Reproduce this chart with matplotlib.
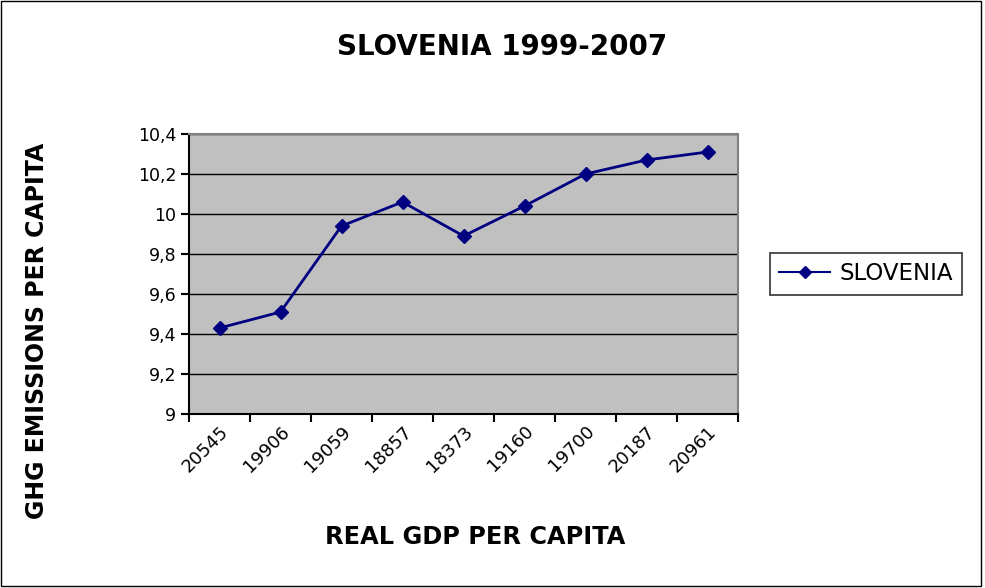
import matplotlib
matplotlib.use("Agg")
import matplotlib.pyplot as plt
from matplotlib.patches import Rectangle
from matplotlib.lines import Line2D

plt.rcParams['font.family'] = ['DejaVu Sans']

categories = ["20545", "19906", "19059", "18857", "18373", "19160", "19700", "20187", "20961"]
values = [9.43, 9.51, 9.94, 10.06, 9.89, 10.04, 10.20, 10.27, 10.31]
yticks = [9.0, 9.2, 9.4, 9.6, 9.8, 10.0, 10.2, 10.4]
ytick_labels = ["9", "9,2", "9,4", "9,6", "9,8", "10", "10,2", "10,4"]

W, H = 985, 588
fig = plt.figure(figsize=(W / 100, H / 100), dpi=100)
ax = fig.add_axes([189 / W, 1 - 414 / H, (738 - 189) / W, (414 - 134) / H])
ax.set_facecolor('#C0C0C0')

x = list(range(len(categories)))
ax.plot(x, values, color='#000080', lw=2, marker='D', ms=7, label='SLOVENIA')

ax.set_xlim(-0.5, len(categories) - 0.5)
ax.set_ylim(9.0, 10.4)
ax.set_yticks(yticks)
ax.set_yticklabels(ytick_labels, fontsize=12.5)
ax.yaxis.grid(True, color='black', lw=1)
ax.set_axisbelow(True)

ax.set_xticks(x)
ax.set_xticklabels(categories, fontsize=13, rotation=45, ha='right', rotation_mode='anchor')
ax.tick_params(axis='x', which='major', length=0, pad=6)
ax.set_xticks([i - 0.5 for i in range(len(categories) + 1)], minor=True)
ax.tick_params(axis='x', which='minor', length=6, width=1.5, direction='out', color='black')
ax.tick_params(axis='y', length=6, width=1.5, direction='out', color='black', pad=3)

for s in ['top', 'right']:
    ax.spines[s].set_color('#808080')
    ax.spines[s].set_linewidth(1.5)
for s in ['left', 'bottom']:
    ax.spines[s].set_color('black')
    ax.spines[s].set_linewidth(1.5)

fig.text(502 / W, 1 - 47 / H, "SLOVENIA 1999-2007", ha='center', va='center',
         fontsize=20, fontweight='bold')
fig.text(475 / W, 1 - 537 / H, "REAL GDP PER CAPITA", ha='center', va='center',
         fontsize=17.3, fontweight='bold')
fig.text(37 / W, 1 - 331 / H, "GHG EMISSIONS PER CAPITA", ha='center', va='center',
         fontsize=17, fontweight='bold', rotation=90)

leg = fig.legend(handles=[Line2D([], [], color='#000080', lw=1.5, marker='D', ms=6)],
                 labels=['SLOVENIA'], loc='center', bbox_to_anchor=(866 / W, 1 - 274 / H),
                 fontsize=16.5, frameon=True, fancybox=False, edgecolor='black',
                 handlelength=2.2, handletextpad=0.4, borderpad=0.4)
leg.get_frame().set_linewidth(1.2)

fig.patches.append(Rectangle((0.5 / W, 2.5 / H), 980 / W, 585 / H, transform=fig.transFigure,
                             fill=False, edgecolor='black', lw=1))

fig.savefig("out.png", dpi=100)
